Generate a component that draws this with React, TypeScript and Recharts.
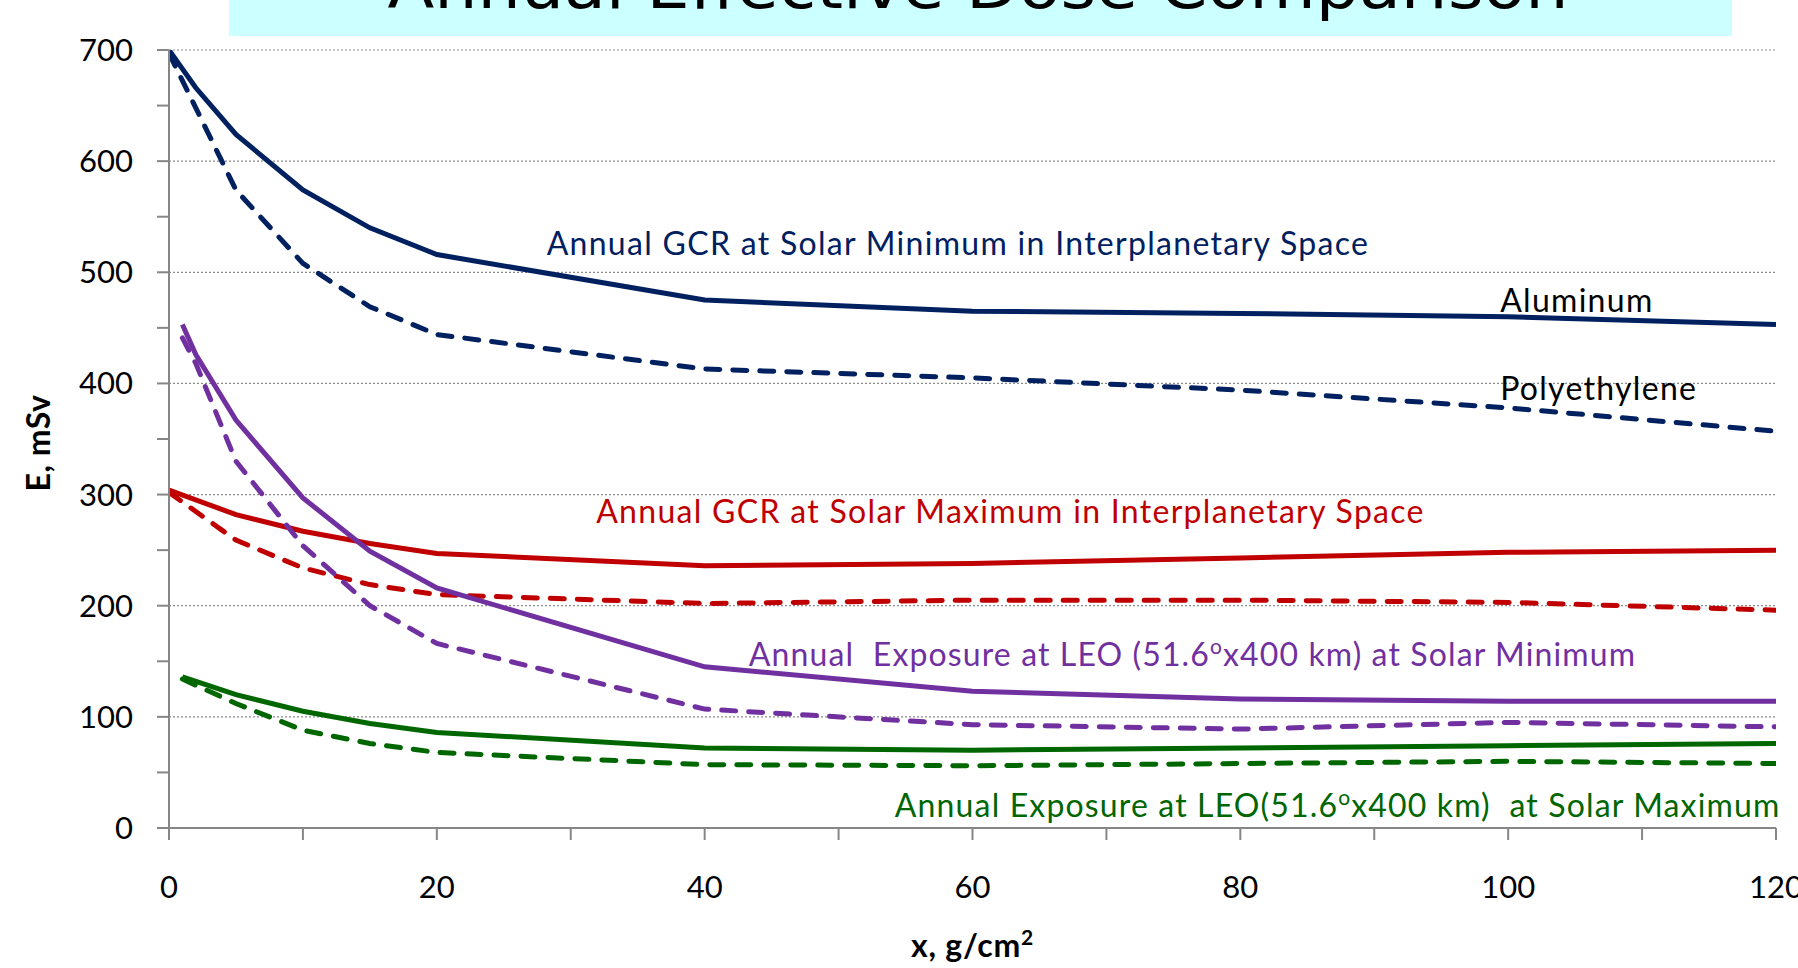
import {
  LineChart,
  Line,
  XAxis,
  YAxis,
  ReferenceLine,
  ReferenceDot,
} from 'recharts';

// thickness, g/cm2
const xTicks = [0, 10, 20, 30, 40, 50, 60, 70, 80, 90, 100, 110, 120];
const yTicks = [0, 50, 100, 150, 200, 250, 300, 350, 400, 450, 500, 550, 600, 650, 700];
const gridValues = [100, 200, 300, 400, 500, 600, 700];

const gcrMinX = [0, 2, 5, 10, 15, 20, 40, 60, 80, 100, 120];
const gcrMinAl = [700, 666, 624, 574, 540, 516, 475, 465, 463, 460, 453];
const gcrMinPoly = [697, 648, 574, 508, 469, 444, 413, 405, 394, 378, 357];

const gcrMaxX = [0, 5, 10, 15, 20, 40, 60, 80, 100, 120];
const gcrMaxAl = [304, 282, 267, 256, 247, 236, 238, 243, 248, 250];
const gcrMaxPoly = [302, 259, 234, 219, 210, 202, 205, 205, 203, 196];

const leoMinX = [1, 2, 5, 10, 15, 20, 40, 60, 80, 100, 120];
const leoMinAl = [453, 426, 367, 297, 249, 216, 145, 123, 116, 114, 114];
const leoMinPoly = [441, 418, 330, 254, 200, 166, 107, 93, 89, 95, 91];

const leoMaxX = [1, 5, 10, 15, 20, 40, 60, 80, 100, 120];
const leoMaxAl = [136, 120, 105, 94, 86, 72, 70, 72, 74, 76];
const leoMaxPoly = [134, 112, 88, 76, 68, 57, 56, 58, 60, 58];

const toPoints = (xs: number[], ys: number[]) => xs.map((x, i) => ({ x, y: ys[i] }));

const series = [
  { name: 'gcrMinAl', data: toPoints(gcrMinX, gcrMinAl), color: '#002060', dashed: false },
  { name: 'gcrMinPoly', data: toPoints(gcrMinX, gcrMinPoly), color: '#002060', dashed: true },
  { name: 'gcrMaxAl', data: toPoints(gcrMaxX, gcrMaxAl), color: '#C00000', dashed: false },
  { name: 'gcrMaxPoly', data: toPoints(gcrMaxX, gcrMaxPoly), color: '#C00000', dashed: true },
  { name: 'leoMinAl', data: toPoints(leoMinX, leoMinAl), color: '#7030A0', dashed: false },
  { name: 'leoMinPoly', data: toPoints(leoMinX, leoMinPoly), color: '#7030A0', dashed: true },
  { name: 'leoMaxAl', data: toPoints(leoMaxX, leoMaxAl), color: '#006600', dashed: false },
  { name: 'leoMaxPoly', data: toPoints(leoMaxX, leoMaxPoly), color: '#006600', dashed: true },
];

// in-plot captions: text before / after the superscript "o"
const annotations = [
  { x: 28.2, y: 515.6, color: '#002060', ls: 1.3, pre: 'Annual GCR at Solar Minimum in Interplanetary Space', post: '' },
  { x: 99.4, y: 464.6, color: '#000000', ls: 1.3, pre: 'Aluminum', post: '' },
  { x: 99.4, y: 385.1, color: '#000000', ls: 1.3, pre: 'Polyethylene', post: '' },
  { x: 31.9, y: 274.4, color: '#C00000', ls: 1.3, pre: 'Annual GCR at Solar Maximum in Interplanetary Space', post: '' },
  { x: 43.3, y: 145.8, color: '#7030A0', ls: 1.12, pre: 'Annual  Exposure at LEO (51.6', post: 'x400 km) at Solar Minimum' },
  { x: 54.2, y: 9.9, color: '#006600', ls: 1.15, pre: 'Annual Exposure at LEO(51.6', post: 'x400 km)  at Solar Maximum' },
];

const FONT = 'Lato, "Open Sans", sans-serif';

const makeCaption = (a: (typeof annotations)[number]) => (props: any) => {
  const { x, y } = props.viewBox;
  return (
    <text
      x={x}
      y={y}
      fill={a.color}
      fontFamily={FONT}
      fontSize={32}
      letterSpacing={a.ls}
      style={{ whiteSpace: 'pre' }}
    >
      {a.pre}
      {a.post && (
        <>
          <tspan dy={-12} fontSize={21}>o</tspan>
          <tspan dy={12} fontSize={32}>{a.post}</tspan>
        </>
      )}
    </text>
  );
};

const YTitle = (props: any) => {
  const { viewBox } = props;
  const cy = viewBox.y + viewBox.height / 2 + 4;
  return (
    <text
      x={50}
      y={cy}
      textAnchor="middle"
      transform={`rotate(-90, 50, ${cy})`}
      fontFamily={FONT}
      fontWeight="bold"
      fontSize={32}
      letterSpacing={0.5}
      fill="#000"
    >
      E, mSv
    </text>
  );
};

const XTitle = (props: any) => {
  const { viewBox } = props;
  const cx = viewBox.x + viewBox.width / 2;
  return (
    <text
      x={cx}
      y={viewBox.y + 129}
      textAnchor="middle"
      fontFamily={FONT}
      fontWeight="bold"
      fontSize={32}
      letterSpacing={0.8}
      fill="#000"
    >
      x, g/cm<tspan dy={-12} fontSize={21}>2</tspan>
    </text>
  );
};

export default function App() {
  return (
    <div style={{ position: 'absolute', left: 0, top: 0, width: 1798, height: 968, background: '#fff' }}>
      <LineChart width={1798} height={968} margin={{ top: 50, right: 22, left: 0, bottom: 0 }}>
        {gridValues.map((v) => (
          <ReferenceLine key={v} y={v} stroke="#8c8c8c" strokeWidth={1.2} strokeDasharray="2 2" />
        ))}
        <XAxis
          type="number"
          dataKey="x"
          domain={[0, 120]}
          ticks={xTicks}
          allowDataOverflow
          height={140}
          tickSize={12}
          tickMargin={36}
          interval={0}
          tickFormatter={(v: number) => (v % 20 === 0 ? String(v) : '')}
          axisLine={{ stroke: '#868686', strokeWidth: 2 }}
          tickLine={{ stroke: '#868686', strokeWidth: 2 }}
          tick={{ fill: '#000', fontSize: 31, fontFamily: FONT }}
          label={<XTitle />}
        />
        <YAxis
          type="number"
          domain={[0, 700]}
          ticks={yTicks}
          allowDataOverflow
          width={169}
          tickSize={12}
          tickMargin={24}
          interval={0}
          tickFormatter={(v: number) => (v % 100 === 0 ? String(v) : '')}
          axisLine={{ stroke: '#868686', strokeWidth: 2 }}
          tickLine={{ stroke: '#868686', strokeWidth: 2 }}
          tick={{ fill: '#000', fontSize: 31, fontFamily: FONT }}
          label={<YTitle />}
        />
        {series.map((s) => (
          <Line
            key={s.name}
            data={s.data}
            dataKey="y"
            type="linear"
            stroke={s.color}
            strokeWidth={5}
            strokeDasharray={s.dashed ? '14 13' : undefined}
            strokeLinecap={s.dashed ? 'round' : 'butt'}
            dot={false}
            activeDot={false}
            isAnimationActive={false}
          />
        ))}
        {annotations.map((a, i) => (
          <ReferenceDot key={i} x={a.x} y={a.y} r={0} fill="none" stroke="none" label={makeCaption(a)} />
        ))}
      </LineChart>
      <svg width={1798} height={40} style={{ position: 'absolute', left: 0, top: 0 }}>
        <rect x={229} y={0} width={1503} height={36} fill="#CCFFFF" />
        <text
          x={978}
          y={8}
          textAnchor="middle"
          fontFamily='"DejaVu Sans", sans-serif'
          fontSize={62}
          textLength={1181}
          lengthAdjust="spacingAndGlyphs"
          fill="#000"
        >
          Annual Effective Dose Comparison
        </text>
      </svg>
    </div>
  );
}
